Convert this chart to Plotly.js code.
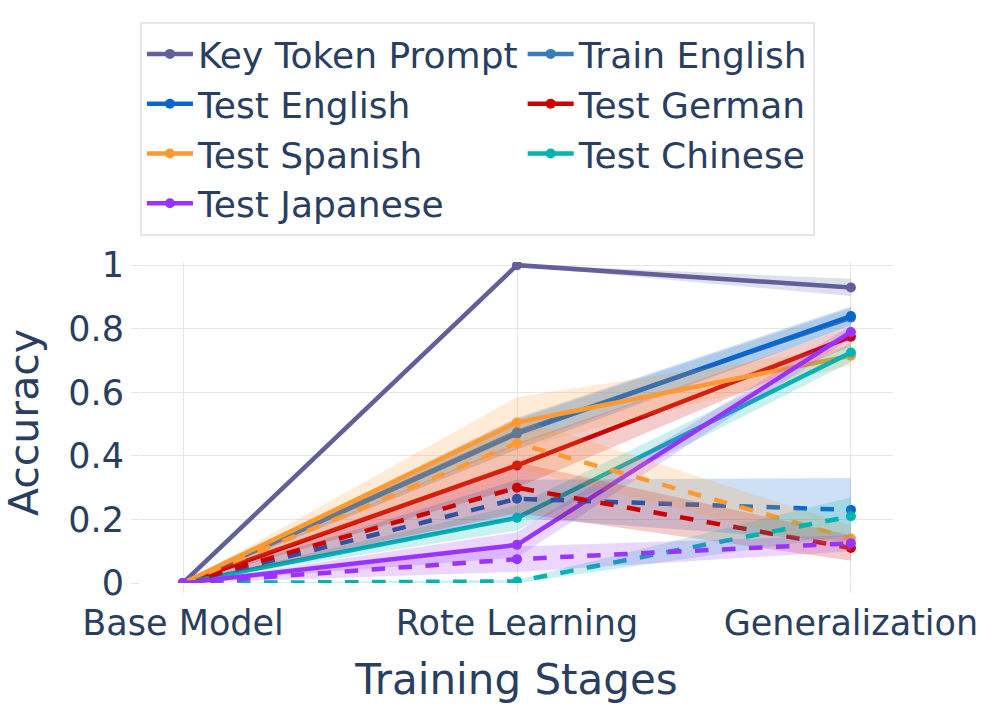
<!DOCTYPE html>
<html>
<head>
<meta charset="utf-8">
<script src="https://cdn.plot.ly/plotly-3.0.1.min.js"></script>
<style>html,body{margin:0;padding:0;background:#fff;}#chart{width:997px;height:712px;}</style>
</head>
<body>
<div id="chart"></div>
<script>
const stages = ['Base Model', 'Rote Learning', 'Generalization'];

// Solid lines (mean, half band width)
const keyToken = [0, 1.0, 0.93];
const keyTokenErr = [0, 0.003, 0.027];
const trainEnglish = [0, 0.475, 0.835];
const trainEnglishErr = [0, 0.04, 0.03];
const testEnglish = [0, 0.47, 0.84];
const testEnglishErr = [0, 0.05, 0.03];
const testGerman = [0, 0.37, 0.775];
const testGermanErr = [0, 0.07, 0.03];
const testSpanish = [0, 0.505, 0.715];
const testSpanishErr = [0, 0.08, 0.03];
const testChinese = [0, 0.205, 0.725];
const testChineseErr = [0, 0.04, 0.03];
const testJapanese = [0, 0.12, 0.79];
const testJapaneseErr = [0, 0.04, 0.02];

// Dashed lines
const testEnglishD = [0, 0.265, 0.23];
const testEnglishDErr = [0, 0.06, 0.10];
const testGermanD = [0, 0.30, 0.11];
const testGermanDErr = [0, 0.08, 0.04];
const testSpanishD = [0, 0.44, 0.14];
const testSpanishDErr = [0, 0.08, 0.04];
const testChineseD = [0, 0.005, 0.21];
const testChineseDErr = [0, 0.005, 0.06];
const testJapaneseD = [0, 0.075, 0.125];
const testJapaneseDErr = [0, 0.04, 0.025];

const series = [
  {name: 'Key Token Prompt', y: keyToken, e: keyTokenErr, color: '#625f9a', rgb: '98,95,154', dash: 'solid', legend: true},
  {name: 'Train English', y: trainEnglish, e: trainEnglishErr, color: '#3a7bb8', rgb: '58,123,184', dash: 'solid', legend: true},
  {name: 'Test English', y: testEnglish, e: testEnglishErr, color: '#0a66cc', rgb: '10,102,204', dash: 'solid', legend: true},
  {name: 'Test German', y: testGerman, e: testGermanErr, color: '#cc0000', rgb: '204,0,0', dash: 'solid', legend: true},
  {name: 'Test Spanish', y: testSpanish, e: testSpanishErr, color: '#ff9933', rgb: '255,153,51', dash: 'solid', legend: true},
  {name: 'Test Chinese', y: testChinese, e: testChineseErr, color: '#00b3b3', rgb: '0,179,179', dash: 'solid', legend: true},
  {name: 'Test Japanese', y: testJapanese, e: testJapaneseErr, color: '#9933ff', rgb: '153,51,255', dash: 'solid', legend: true},
  {name: 'Test English', y: testEnglishD, e: testEnglishDErr, color: '#0a66cc', rgb: '10,102,204', dash: 'dash', legend: false},
  {name: 'Test German', y: testGermanD, e: testGermanDErr, color: '#cc0000', rgb: '204,0,0', dash: 'dash', legend: false},
  {name: 'Test Spanish', y: testSpanishD, e: testSpanishDErr, color: '#ff9933', rgb: '255,153,51', dash: 'dash', legend: false},
  {name: 'Test Chinese', y: testChineseD, e: testChineseDErr, color: '#00b3b3', rgb: '0,179,179', dash: 'dash', legend: false},
  {name: 'Test Japanese', y: testJapaneseD, e: testJapaneseDErr, color: '#9933ff', rgb: '153,51,255', dash: 'dash', legend: false}
];

const traces = [];
series.forEach(s => {
  const upper = s.y.map((v, i) => v + s.e[i]);
  const lower = s.y.map((v, i) => v - s.e[i]);
  traces.push({
    x: stages.concat(stages.slice().reverse()),
    y: upper.concat(lower.slice().reverse()),
    type: 'scatter', mode: 'lines', fill: 'toself',
    fillcolor: 'rgba(' + s.rgb + ',0.2)',
    line: {width: 0, color: 'rgba(0,0,0,0)'},
    hoverinfo: 'skip', showlegend: false
  });
  traces.push({
    x: stages, y: s.y, name: s.name,
    type: 'scatter', mode: 'lines+markers',
    line: {color: s.color, width: 4.5, dash: s.dash},
    marker: {color: s.color, size: 10},
    showlegend: s.legend
  });
});

const fontFam = 'DejaVu Sans, sans-serif';
const layout = {
  width: 997, height: 712,
  margin: {l: 140, r: 104, t: 262, b: 129},
  paper_bgcolor: '#ffffff', plot_bgcolor: '#ffffff',
  font: {family: fontFam, color: '#2a3f5f', size: 34},
  xaxis: {
    type: 'category', range: [-0.129, 2.126],
    showgrid: true, gridcolor: '#e6e6e6', zeroline: false,
    ticks: 'outside', ticklen: 9, tickcolor: '#e6e6e6',
    tickfont: {size: 35},
    title: {text: 'Training Stages', font: {size: 42}, standoff: 22}
  },
  yaxis: {
    range: [0, 1.01],
    tickvals: [0, 0.2, 0.4, 0.6, 0.8, 1],
    showgrid: true, gridcolor: '#e6e6e6', zeroline: false,
    ticks: 'outside', ticklen: 8, tickcolor: '#e6e6e6',
    tickfont: {size: 35},
    title: {text: 'Accuracy', font: {size: 41}, standoff: 24}
  },
  legend: {
    orientation: 'h', x: -0.0001, xanchor: 'left', y: 1.081, yanchor: 'bottom',
    bordercolor: '#e6e6e6', borderwidth: 2, bgcolor: '#ffffff',
    font: {size: 36}, itemwidth: 46
  },
  showlegend: true
};

Plotly.newPlot('chart', traces, layout, {displayModeBar: false, staticPlot: true});
</script>
</body>
</html>
